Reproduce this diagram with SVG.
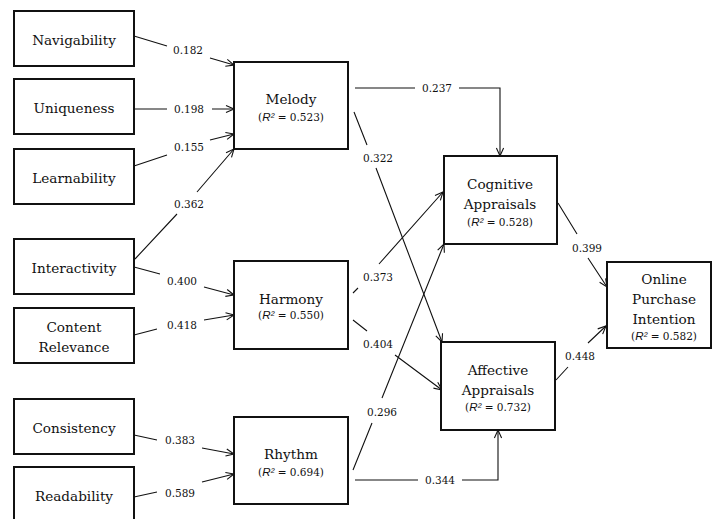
<svg xmlns="http://www.w3.org/2000/svg" width="712" height="519" viewBox="0 0 712 519">
  <defs>
    <marker id="arr" markerUnits="userSpaceOnUse" markerWidth="12" markerHeight="12" viewBox="-10 -6 12 12" refX="0" refY="0" orient="auto" overflow="visible">
      <path d="M-8,-3.6 L0,0 L-8,3.6" fill="none" stroke="#111" stroke-width="1.1"/>
    </marker>
  </defs>
  <style>
    .box { fill: #fff; stroke: #111; stroke-width: 2; }
    .t { font-family: 'DejaVu Serif', serif; font-size: 13.6px; fill: #111; text-anchor: middle; }
    .r2 { font-family: 'DejaVu Serif', serif; font-size: 10.5px; fill: #111; text-anchor: middle; }
    .ri { font-family: 'Liberation Sans', Arial, sans-serif; font-style: italic; font-size: 11.5px; }
    .lbl { font-family: 'DejaVu Serif', serif; font-size: 10.5px; fill: #111; text-anchor: middle; }
    .edge { fill: none; stroke: #111; stroke-width: 1.1; marker-end: url(#arr); }
  </style>
  <rect width="712" height="519" fill="#fff"/>

  <!-- connectors -->
  <g id="connectors">
    <path class="edge" d="M134,36 L167,46 M210,58 L234,65"/>
    <path class="edge" d="M134,109 L167,109 M212,109 L234,109"/>
    <path class="edge" d="M134,166 L167,155 M210,140 L234,134"/>
    <path class="edge" d="M135,259 L177,214 M197,192 L234,149"/>
    <path class="edge" d="M134,267 L160,274 M204,287 L234,295"/>
    <path class="edge" d="M134,335 L157,329 M204,320 L234,315"/>
    <path class="edge" d="M134,435 L157,440 M202,448 L234,454"/>
    <path class="edge" d="M134,497 L157,492 M202,482 L234,474"/>
    <path class="edge" d="M355,88 L415,88 M459,88 L500,88 L500,156"/>
    <path class="edge" d="M354,112 L367,145 M376,168 L442,342"/>
    <path class="edge" d="M353,293 L358,288 M379,264 L443,192"/>
    <path class="edge" d="M353,320 L367,331 M395,355 L442,390"/>
    <path class="edge" d="M353,470 L372,423 M382,398 L444,244"/>
    <path class="edge" d="M355,480 L418,480 M462,480 L498,480 L498,430"/>
    <path class="edge" d="M558,203 L577,234 M588,258 L607,287"/>
    <path class="edge" d="M556,380 L568,367 M588,343 L606,326"/>

    <text class="lbl" x="188" y="54">0.182</text>
    <text class="lbl" x="189" y="113">0.198</text>
    <text class="lbl" x="189" y="151">0.155</text>
    <text class="lbl" x="189" y="208">0.362</text>
    <text class="lbl" x="182" y="285">0.400</text>
    <text class="lbl" x="182" y="329">0.418</text>
    <text class="lbl" x="180" y="444">0.383</text>
    <text class="lbl" x="180" y="497">0.589</text>
    <text class="lbl" x="437" y="92">0.237</text>
    <text class="lbl" x="378" y="162">0.322</text>
    <text class="lbl" x="378" y="281">0.373</text>
    <text class="lbl" x="378" y="348">0.404</text>
    <text class="lbl" x="382" y="416">0.296</text>
    <text class="lbl" x="440" y="484">0.344</text>
    <text class="lbl" x="587" y="252">0.399</text>
    <text class="lbl" x="580" y="360">0.448</text>
  </g>

  <!-- antecedent constructs -->
  <g id="navigability">
    <rect class="box" x="14" y="11" width="120" height="55"/>
    <text class="t" x="74" y="45">Navigability</text>
  </g>
  <g id="uniqueness">
    <rect class="box" x="14" y="79" width="120" height="55"/>
    <text class="t" x="74" y="113">Uniqueness</text>
  </g>
  <g id="learnability">
    <rect class="box" x="14" y="149" width="120" height="55"/>
    <text class="t" x="74" y="183">Learnability</text>
  </g>
  <g id="interactivity">
    <rect class="box" x="14" y="239" width="120" height="55"/>
    <text class="t" x="74" y="273">Interactivity</text>
  </g>
  <g id="content-relevance">
    <rect class="box" x="14" y="308" width="120" height="55"/>
    <text class="t" x="74" y="332">Content</text>
    <text class="t" x="74" y="352">Relevance</text>
  </g>
  <g id="consistency">
    <rect class="box" x="14" y="399" width="120" height="55"/>
    <text class="t" x="74" y="433">Consistency</text>
  </g>
  <g id="readability">
    <rect class="box" x="14" y="467" width="120" height="56"/>
    <text class="t" x="74" y="501">Readability</text>
  </g>

  <!-- mediating constructs -->
  <g id="melody">
    <rect class="box" x="234" y="62" width="114" height="87"/>
    <text class="t" x="291" y="104">Melody</text>
    <text class="r2" x="291" y="121">(<tspan class="ri">R²</tspan> = 0.523)</text>
  </g>
  <g id="harmony">
    <rect class="box" x="234" y="261" width="114" height="88"/>
    <text class="t" x="291" y="304">Harmony</text>
    <text class="r2" x="291" y="319">(<tspan class="ri">R²</tspan> = 0.550)</text>
  </g>
  <g id="rhythm">
    <rect class="box" x="234" y="417" width="114" height="87"/>
    <text class="t" x="291" y="459">Rhythm</text>
    <text class="r2" x="291" y="476">(<tspan class="ri">R²</tspan> = 0.694)</text>
  </g>

  <!-- appraisal constructs -->
  <g id="cognitive-appraisals">
    <rect class="box" x="444" y="156" width="113" height="88"/>
    <text class="t" x="500" y="189">Cognitive</text>
    <text class="t" x="500" y="209">Appraisals</text>
    <text class="r2" x="500" y="226">(<tspan class="ri">R²</tspan> = 0.528)</text>
  </g>
  <g id="affective-appraisals">
    <rect class="box" x="441" y="342" width="114" height="88"/>
    <text class="t" x="498" y="375">Affective</text>
    <text class="t" x="498" y="395">Appraisals</text>
    <text class="r2" x="498" y="411">(<tspan class="ri">R²</tspan> = 0.732)</text>
  </g>

  <!-- outcome -->
  <g id="online-purchase-intention">
    <rect class="box" x="607" y="262" width="104" height="86"/>
    <text class="t" x="664" y="284">Online</text>
    <text class="t" x="664" y="304">Purchase</text>
    <text class="t" x="664" y="324">Intention</text>
    <text class="r2" x="664" y="340">(<tspan class="ri">R²</tspan> = 0.582)</text>
  </g>
</svg>
